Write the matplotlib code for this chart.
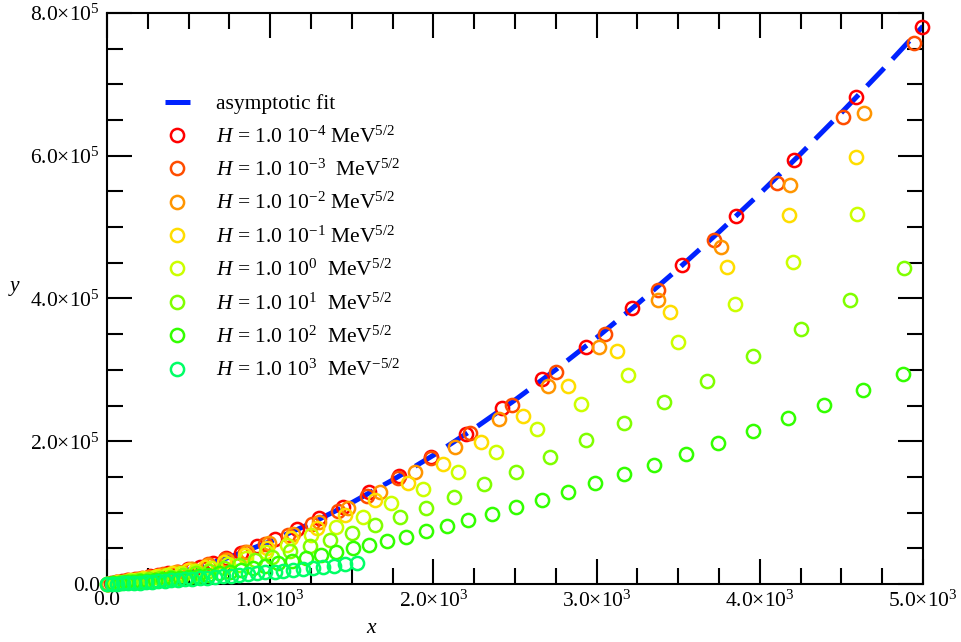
import matplotlib
matplotlib.use("Agg")
import matplotlib.pyplot as plt
from matplotlib.ticker import MultipleLocator, AutoMinorLocator, FuncFormatter

plt.rcParams['font.family'] = ['Liberation Serif', 'DejaVu Serif']
plt.rcParams['mathtext.fontset'] = 'custom'
plt.rcParams['mathtext.rm'] = 'Liberation Serif'
plt.rcParams['mathtext.it'] = 'Liberation Serif:italic'
plt.rcParams['mathtext.bf'] = 'Liberation Serif:bold'

# ---------------- data ----------------
fit_x = [0, 250, 500, 750, 1000, 1250, 1500, 1750, 2000, 2250, 2500, 2750, 3000,
         3250, 3500, 3750, 4000, 4250, 4500, 4750, 5000]
fit_y = [0, 6.5e3, 1.96e4, 3.75e4, 5.95e4, 8.50e4, 1.139e5, 1.457e5, 1.804e5, 2.178e5,
         2.578e5, 3.003e5, 3.452e5, 3.923e5, 4.416e5, 4.932e5, 5.469e5, 6.026e5,
         6.603e5, 7.199e5, 7.815e5]

x_m4 = [4994, 4589, 4210, 3854, 3523, 3217, 2935, 2665, 2420, 2200, 1985, 1789, 1605, 1446,
        1299, 1164, 1029, 919, 821, 731, 647, 570, 499, 433, 372, 315, 263, 215, 170, 129,
        91, 56, 23]
y_m4 = [7.80e5, 6.82e5, 5.94e5, 5.16e5, 4.47e5, 3.87e5, 3.32e5, 2.87e5, 2.47e5, 2.10e5,
        1.78e5, 1.51e5, 1.29e5, 1.08e5, 9.2e4, 7.7e4, 6.3e4, 5.3e4, 4.3e4, 3.6e4, 3.0e4,
        2.45e4, 2.05e4, 1.75e4, 1.5e4, 1.3e4, 1.1e4, 9.0e3, 7.0e3, 5.4e3, 3.8e3, 2.3e3, 1.0e3]

x_m3 = [4945, 4510, 4105, 3719, 3376, 3051, 2751, 2482, 2224, 1985, 1783, 1593, 1418, 1256,
        1107, 970, 843, 726, 618, 518, 426, 341, 263, 191, 125, 64, 7]
y_m3 = [7.58e5, 6.54e5, 5.62e5, 4.82e5, 4.12e5, 3.50e5, 2.97e5, 2.51e5, 2.12e5, 1.76e5,
        1.48e5, 1.23e5, 1.02e5, 8.4e4, 6.9e4, 5.6e4, 4.5e4, 3.5e4, 2.75e4, 2.1e4, 1.7e4,
        1.36e4, 1.05e4, 7.6e3, 5.0e3, 2.5e3, 3e2]

x_m2 = [4638, 4185, 3762, 3376, 3015, 2702, 2402, 2132, 1887, 1670, 1475, 1300, 1140, 995,
        858, 733, 620, 516, 422, 336, 258, 187, 122, 62, 8]
y_m2 = [6.60e5, 5.59e5, 4.72e5, 3.98e5, 3.32e5, 2.77e5, 2.31e5, 1.92e5, 1.57e5, 1.29e5,
        1.06e5, 8.7e4, 7.0e4, 5.7e4, 4.5e4, 3.4e4, 2.7e4, 2.1e4, 1.65e4, 1.3e4, 1.0e4,
        7.2e3, 4.7e3, 2.4e3, 3e2]

x_m1 = [4589, 4179, 3799, 3450, 3125, 2825, 2549, 2292, 2059, 1844, 1643, 1457, 1285, 1126,
        979, 843, 718, 602, 495, 396, 304, 219, 141, 69, 2]
y_m1 = [5.98e5, 5.17e5, 4.44e5, 3.81e5, 3.26e5, 2.77e5, 2.35e5, 1.99e5, 1.68e5, 1.42e5,
        1.18e5, 9.6e4, 7.9e4, 6.4e4, 5.1e4, 4.0e4, 3.1e4, 2.35e4, 1.9e4, 1.5e4, 1.15e4,
        8.3e3, 5.3e3, 2.6e3, 1e2]

x_p0 = [4596, 4203, 3848, 3499, 3192, 2904, 2635, 2384, 2151, 1936, 1740, 1569, 1402, 1248,
        1105, 973, 851, 739, 635, 539, 451, 370, 295, 226, 162, 103, 48]
y_p0 = [5.18e5, 4.51e5, 3.92e5, 3.39e5, 2.93e5, 2.52e5, 2.17e5, 1.85e5, 1.57e5, 1.33e5,
        1.13e5, 9.4e4, 8.0e4, 6.8e4, 5.5e4, 4.5e4, 3.6e4, 2.86e4, 2.3e4, 1.8e4, 1.5e4,
        1.2e4, 9.5e3, 7.3e3, 5.2e3, 3.3e3, 1.5e3]

x_p1 = [4884, 4553, 4252, 3958, 3676, 3413, 3168, 2935, 2714, 2506, 2310, 2126, 1955, 1795,
        1644, 1502, 1368, 1242, 1124, 1012, 907, 808, 715, 627, 545, 467, 394, 325, 260,
        199, 142, 88, 37]
y_p1 = [4.43e5, 3.98e5, 3.57e5, 3.19e5, 2.84e5, 2.55e5, 2.26e5, 2.02e5, 1.78e5, 1.57e5,
        1.40e5, 1.22e5, 1.06e5, 9.4e4, 8.2e4, 7.1e4, 6.2e4, 5.3e4, 4.6e4, 3.85e4, 3.3e4,
        2.7e4, 2.3e4, 1.85e4, 1.5e4, 1.25e4, 1.05e4, 8.6e3, 6.9e3, 5.2e3, 3.7e3, 2.3e3, 1.0e3]

x_p2 = [4877, 4632, 4393, 4173, 3958, 3744, 3548, 3352, 3168, 2990, 2825, 2665, 2506, 2359,
        2212, 2083, 1955, 1832, 1716, 1608, 1505, 1406, 1311, 1220, 1133, 1050, 971, 895,
        822, 752, 685, 621, 560, 502, 446, 392, 341, 292, 245, 200, 157, 116, 77, 39, 3]
y_p2 = [2.94e5, 2.72e5, 2.51e5, 2.33e5, 2.14e5, 1.98e5, 1.82e5, 1.67e5, 1.54e5, 1.42e5,
        1.29e5, 1.18e5, 1.08e5, 9.8e4, 9.0e4, 8.1e4, 7.4e4, 6.6e4, 6.0e4, 5.5e4, 5.0e4,
        4.5e4, 4.05e4, 3.65e4, 3.25e4, 2.9e4, 2.55e4, 2.3e4, 2.0e4, 1.75e4, 1.5e4, 1.33e4,
        1.15e4, 1.0e4, 8.9e3, 7.8e3, 6.8e3, 5.8e3, 4.9e3, 4.0e3, 3.1e3, 2.3e3, 1.5e3, 8e2, 60]

x_p3 = [1532, 1458, 1391, 1324, 1262, 1201, 1140, 1078, 1029, 968, 919, 864, 811, 760, 710,
        661, 613, 567, 522, 478, 435, 393, 353, 313, 275, 238, 201, 166, 131, 97, 64, 32, 1]
y_p3 = [2.94e4, 2.76e4, 2.59e4, 2.43e4, 2.29e4, 2.14e4, 2.00e4, 1.86e4, 1.75e4, 1.62e4,
        1.51e4, 1.40e4, 1.29e4, 1.18e4, 1.08e4, 9.9e3, 8.9e3, 8.1e3, 7.3e3, 6.5e3, 5.7e3,
        5.0e3, 4.4e3, 3.7e3, 3.2e3, 2.6e3, 2.1e3, 1.6e3, 1.2e3, 810, 470, 190, 0]

series_labels = [
    r"$H$ = 1.0 10$^{-4}$ MeV$^{5/2}$",
    r"$H$ = 1.0 10$^{-3}$  MeV$^{5/2}$",
    r"$H$ = 1.0 10$^{-2}$ MeV$^{5/2}$",
    r"$H$ = 1.0 10$^{-1}$ MeV$^{5/2}$",
    r"$H$ = 1.0 10$^{0}$  MeV$^{5/2}$",
    r"$H$ = 1.0 10$^{1}$  MeV$^{5/2}$",
    r"$H$ = 1.0 10$^{2}$  MeV$^{5/2}$",
    r"$H$ = 1.0 10$^{3}$  MeV$^{-5/2}$",
]
series_colors = ['#ff0000', '#ff4d00', '#ff9500', '#ffdd00', '#ccff00', '#80ff00', '#33ff00', '#00ff66']
series_x = [x_m4, x_m3, x_m2, x_m1, x_p0, x_p1, x_p2, x_p3]
series_y = [y_m4, y_m3, y_m2, y_m1, y_p0, y_p1, y_p2, y_p3]

# ---------------- figure ----------------
fig = plt.figure(figsize=(9.61, 6.42), dpi=100)
ax = fig.add_axes([107/961, 58/642, 816/961, 571/642])

ax.plot(fit_x, fit_y, color='#0022ff', lw=3.6, dashes=(5, 2.4),
        label='asymptotic fit', zorder=2, solid_capstyle='butt', dash_capstyle='butt')
for xs, ys, c, lab in zip(series_x, series_y, series_colors, series_labels):
    ax.plot(xs, ys, linestyle='none', marker='o', markersize=9.5, markerfacecolor='none',
            markeredgecolor=c, markeredgewidth=1.8, label=lab, clip_on=False, zorder=3)

ax.set_xlim(0, 5000)
ax.set_ylim(0, 8e5)

def fmt(exp):
    def f(v, pos):
        if abs(v) < 1e-9:
            return "0.0"
        return "%.1f\u00d710$^{%d}$" % (v / 10**exp, exp)
    return f

ax.xaxis.set_major_locator(MultipleLocator(1000))
ax.xaxis.set_minor_locator(AutoMinorLocator(4))
ax.yaxis.set_major_locator(MultipleLocator(2e5))
ax.yaxis.set_minor_locator(AutoMinorLocator(4))
ax.xaxis.set_major_formatter(FuncFormatter(fmt(3)))
ax.yaxis.set_major_formatter(FuncFormatter(fmt(5)))

ax.tick_params(which='both', direction='in', top=True, right=True, width=1.5,
               labelsize=15.5, colors='black')
ax.tick_params(which='major', length=18)
ax.tick_params(which='minor', length=11.5)
ax.tick_params(axis='x', which='major', pad=5)
ax.tick_params(axis='y', which='major', pad=5)
for s in ax.spines.values():
    s.set_linewidth(1.5)

ax.set_xlabel('$x$', fontsize=15.5)
ax.xaxis.set_label_coords((372 - 107) / 816, -0.062)
ax.set_ylabel('$y$', fontsize=15.5, rotation=0)
ax.yaxis.set_label_coords(-0.113, 0.50)

leg = ax.legend(loc='upper left', bbox_to_anchor=(0.071, 0.858), frameon=False,
                fontsize=15.5, handlelength=1.16, handletextpad=1.2,
                labelspacing=0.565, borderpad=0, borderaxespad=0, numpoints=1)

fig.savefig('out.png', dpi=100)
